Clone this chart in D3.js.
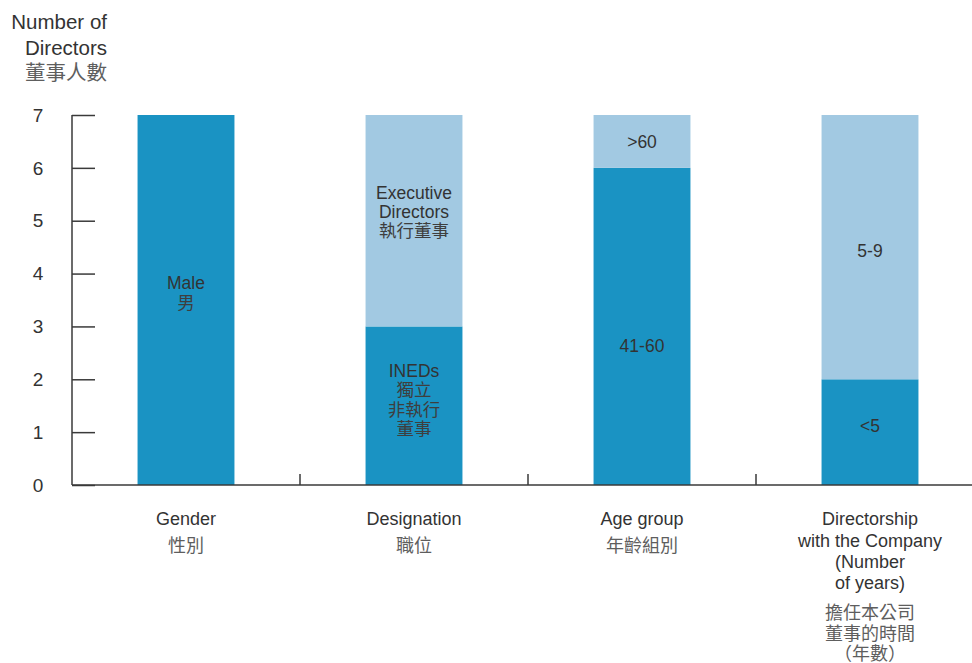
<!DOCTYPE html>
<html>
<head>
<meta charset="utf-8">
<script src="https://cdn.jsdelivr.net/npm/d3@7/dist/d3.min.js"></script>
<style>
  html, body { margin: 0; padding: 0; background: #fff; }
  svg { display: block; font-family: "Liberation Sans", Arial, "Noto Sans CJK TC", sans-serif; }
</style>
</head>
<body>
<svg id="chart" width="972" height="663"></svg>
<script>
// ---- DATA ----
const categories = ["Gender", "Designation", "Age group", "Directorship"];
const categoryLabelsEn = [["Gender"], ["Designation"], ["Age group"], ["Directorship", "with the Company", "(Number", "of years)"]];
const categoryLabelsZh = [["性別"], ["職位"], ["年齡組別"], ["擔任本公司", "董事的時間", "（年數）"]];
const lowerValues = [7, 3, 6, 2];   // dark segment
const upperValues = [0, 4, 1, 5];   // light segment
const lowerLabels = [["Male", "男"], ["INEDs", "獨立", "非執行", "董事"], ["41-60"], ["<5"]];
const upperLabels = [[], ["Executive", "Directors", "執行董事"], [">60"], ["5-9"]];
const yTicks = [0, 1, 2, 3, 4, 5, 6, 7];
const yTitle = ["Number of", "Directors", "董事人數"];

// ---- DRAW ----
const svg = d3.select("#chart");
const darkBlue = "#1a93c3";
const lightBlue = "#a2c9e2";
const axisColor = "#3a3a3a";
const textColor = "#333";
const zhColor = "#5e5e5e";
const zhInBar = "#3e3e3e";

const x = d3.scaleBand().domain(categories).range([72, 984]).paddingInner(0.575).paddingOuter(0.2875);
const y = d3.scaleLinear().domain([0, 7]).range([485, 115]);

const isCJK = s => /[\u3000-\u9fff\uff00-\uffef]/.test(s);

// bars
const stacks = categories.map((c, i) => ({
  c,
  segs: [
    { y0: 0, y1: lowerValues[i], fill: darkBlue, label: lowerLabels[i] },
    { y0: lowerValues[i], y1: lowerValues[i] + upperValues[i], fill: lightBlue, label: upperLabels[i] }
  ]
}));

const g = svg.append("g");
stacks.forEach(st => {
  st.segs.forEach(s => {
    if (s.y1 <= s.y0) return;
    g.append("rect")
      .attr("x", x(st.c))
      .attr("width", x.bandwidth())
      .attr("y", y(s.y1))
      .attr("height", y(s.y0) - y(s.y1))
      .attr("fill", s.fill);
  });
});

// in-bar labels
const labelShift = { "41-60": 19, "<5": -6, "Male": -7, "Executive": -9, "INEDs": -6, "5-9": 4 };
function lineOffsets(lines, enStep, zhStep) {
  const offs = [0];
  for (let k = 1; k < lines.length; k++) {
    offs.push(offs[k - 1] + (isCJK(lines[k]) ? zhStep : enStep));
  }
  return offs;
}
stacks.forEach(st => {
  st.segs.forEach(s => {
    if (!s.label.length) return;
    const mid = y((s.y0 + s.y1) / 2) + (labelShift[s.label[0]] || 0);
    const offs = lineOffsets(s.label, 19, 19.5);
    const total = offs[offs.length - 1];
    const t = g.append("text")
      .attr("text-anchor", "middle")
      .attr("font-size", 17.5)
      .attr("fill", textColor);
    s.label.forEach((ln, k) => {
      t.append("tspan")
        .attr("x", x(st.c) + x.bandwidth() / 2)
        .attr("y", mid - total / 2 + offs[k])
        .attr("dy", "0.35em")
        .attr("fill", isCJK(ln) ? zhInBar : textColor)
        .text(ln);
    });
  });
});

// y axis
const yAxis = d3.axisRight(y).tickValues(yTicks).tickSize(23).tickFormat("");
const ya = svg.append("g").attr("transform", "translate(72,0)").call(yAxis);
ya.select(".domain").remove();
ya.selectAll(".tick line").attr("stroke", axisColor).attr("stroke-width", 1.5);
svg.append("line").attr("x1", 72).attr("x2", 72).attr("y1", y(7)).attr("y2", y(0))
  .attr("stroke", axisColor).attr("stroke-width", 1.5);
svg.append("g").selectAll("text").data(yTicks).join("text")
  .attr("x", 38).attr("y", d => y(d)).attr("dy", "0.35em")
  .attr("text-anchor", "middle").attr("font-size", 19).attr("fill", textColor)
  .text(d => d);

// y title
const tt = svg.append("text").attr("text-anchor", "end").attr("font-size", 20.5);
yTitle.forEach((ln, k) => {
  tt.append("tspan").attr("x", 107).attr("y", 22 + k * 25.5).attr("dy", "0.35em")
    .attr("fill", isCJK(ln) ? zhColor : textColor).text(ln);
});

// x axis line
svg.append("line").attr("x1", 72).attr("x2", 972).attr("y1", y(0)).attr("y2", y(0))
  .attr("stroke", axisColor).attr("stroke-width", 1.5);
// separator ticks between categories
const seps = categories.slice(0, -1).map(c => x(c) + x.bandwidth() / 2 + x.step() / 2);
svg.append("g").selectAll("line").data(seps).join("line")
  .attr("x1", d => d).attr("x2", d => d).attr("y1", y(0) - 11).attr("y2", y(0))
  .attr("stroke", axisColor).attr("stroke-width", 1.5);

// category labels
categories.forEach((c, i) => {
  const cx = x(c) + x.bandwidth() / 2;
  const t = svg.append("text").attr("text-anchor", "middle").attr("font-size", 18);
  const en = categoryLabelsEn[i];
  en.forEach((ln, k) => {
    t.append("tspan").attr("x", cx).attr("y", 519 + k * 21.3).attr("dy", "0.35em")
      .attr("fill", textColor).text(ln);
  });
  const zhStart = en.length > 1 ? 519 + (en.length - 1) * 21.3 + 30 : 546;
  categoryLabelsZh[i].forEach((ln, k) => {
    t.append("tspan").attr("x", cx).attr("y", zhStart + k * 20.5).attr("dy", "0.35em")
      .attr("fill", zhColor).text(ln);
  });
});
</script>
</body>
</html>
